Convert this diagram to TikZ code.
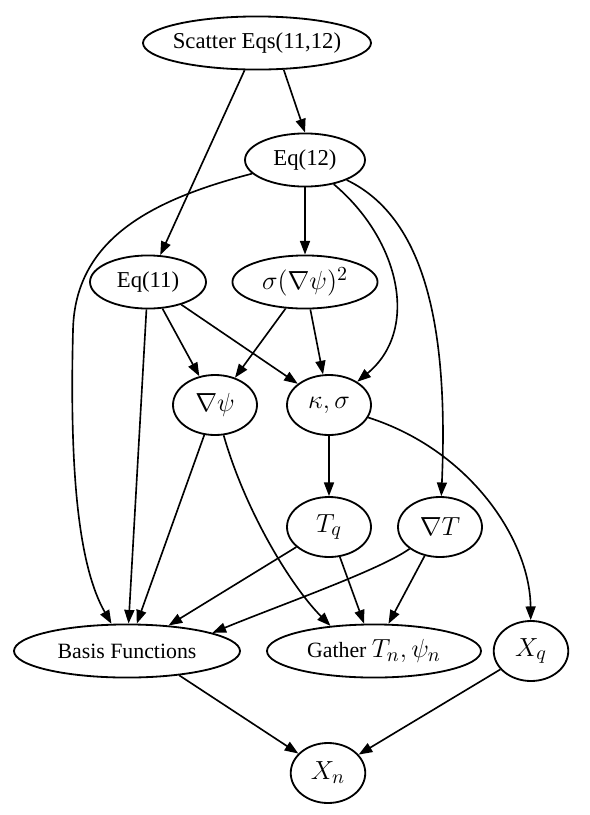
\documentclass[tikz,border=0pt]{standalone}
\usepackage[no-math]{fontspec}
\setmainfont{Liberation Serif}
\usetikzlibrary{shapes.geometric,arrows.meta}
\tikzstyle{every node}=[draw=black,line width=1pt,ellipse,inner sep=0pt]
\tikzstyle{wide}=[minimum height=29.2pt,font=\fontsize{12.5}{15}\selectfont]
\tikzstyle{small}=[minimum width=46.2pt,minimum height=33pt,font=\fontsize{15.5}{18}\selectfont]
\tikzstyle{edge}=[line width=0.9pt,-{Triangle[length=7.5pt,width=5.5pt]}]
\newcommand{\bigmath}[1]{{\fontsize{15.5}{18}\selectfont$#1$}}

\begin{document}
\begin{tikzpicture}[x=0.55pt,y=-0.55pt]
  \useasboundingbox (0,0) rectangle (590,815);
  % top rows
  \node[wide,minimum width=125.4pt,inner xsep=-5pt] (scatter) at (257,43) {Scatter Eqs(11,12)};
  \node[wide,minimum width=66pt] (eqB) at (305,160) {Eq(12)};
  \node[wide,minimum width=63.8pt] (eqA) at (148,282) {Eq(11)};
  \node[wide,minimum width=79.8pt] (sig) at (305,282) {\bigmath{\sigma(\nabla\psi)^2}};
  % middle
  \node[small] (gradpsi) at (215,405) {$\nabla\psi$};
  \node[small] (kapsig) at (329,405) {$\kappa,\sigma$};
  \node[small] (tq) at (329,527) {$T_q$};
  \node[small] (gradt) at (440,527) {$\nabla T$};
  % bottom
  \node[wide,minimum width=124.3pt,font=\fontsize{12}{14}\selectfont] (basis) at (127,651) {Basis Functions};
  \node[wide,minimum width=117.7pt,font=\fontsize{12}{14}\selectfont] (gather) at (374,651) {Gather \bigmath{T_n,\psi_n}};
  \node[small,minimum width=41pt] (xq) at (531,651) {$X_q$};
  \node[small,minimum width=41pt] (xn) at (328,773) {$X_n$};

  \draw[edge] (scatter) -- (eqA);
  \draw[edge] (scatter.-45) -- (eqB.north);
  \draw[edge] (eqB) .. controls (150,200) and (75,240) .. (73,330)
    .. controls (70,450) and (75,560) .. (basis);
  \draw[edge] (eqB) -- (sig);
  \draw[edge] (eqB) .. controls (400,240) and (420,330) .. (kapsig);
  \draw[edge] (eqB) .. controls (430,220) and (448,340) .. (gradt);
  \draw[edge] (eqA) -- (basis);
  \draw[edge] (eqA) -- (gradpsi);
  \draw[edge] (eqA) -- (kapsig);
  \draw[edge] (sig) -- (gradpsi);
  \draw[edge] (sig) -- (kapsig);
  \draw[edge] (gradpsi) -- (basis);
  \draw[edge] (gradpsi) .. controls (245,510) and (290,585) .. (gather.150);
  \draw[edge] (kapsig) -- (tq);
  \draw[edge] (kapsig) .. controls (470,450) and (530,540) .. (xq);
  \draw[edge] (tq) -- (basis);
  \draw[edge] (tq) -- (gather);
  \draw[edge] (gradt) .. controls (380,570) and (280,605) .. (basis.12);
  \draw[edge] (gradt) -- (gather);
  \draw[edge] (basis.-25) -- (xn);
  \draw[edge] (xq) -- (xn);
\end{tikzpicture}
\end{document}
